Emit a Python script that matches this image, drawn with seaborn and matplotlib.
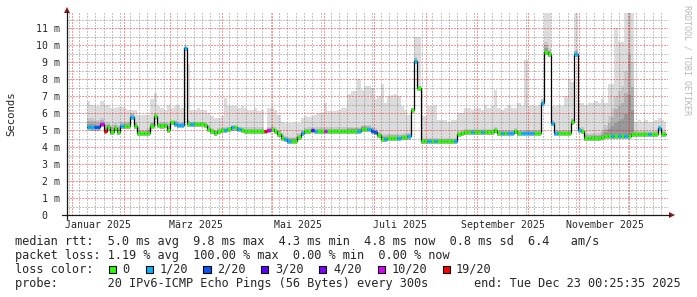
import numpy as np
import pandas as pd
import matplotlib
matplotlib.use("Agg")
import matplotlib.pyplot as plt
import matplotlib.dates as mdates
from matplotlib.ticker import MultipleLocator
from matplotlib.patches import Polygon, Rectangle
from matplotlib.lines import Line2D
import seaborn as sns

# ---------------- data ----------------
sample_start = "2025-01-10"          # first sample, one sample every 2 days
sample_step = "2D"
data_end = "2025-12-23 00:25:35"
view_start = "2024-12-29 00:00"
view_end = "2025-12-24 05:00"

# median rtt per 2-day sample (ms)
median_ms = [
    5.20, 5.15, 5.15, 5.15, 5.35, 4.95, 5.15, 4.88, 5.12, 4.88,
    5.22, 5.25, 5.22, 5.75, 5.25, 4.85, 4.82, 4.82, 4.85, 5.25,
    5.80, 5.28, 5.25, 5.30, 5.00, 5.45, 5.35, 5.32, 5.32, 9.80,
    5.35, 5.35, 5.35, 5.35, 5.35, 5.32, 5.05, 4.92, 4.82, 4.92,
    5.00, 5.00, 5.05, 5.15, 5.15, 5.05, 4.98, 4.96, 4.96, 4.96,
    4.96, 4.96, 4.96, 4.97, 5.00, 5.05, 4.95, 4.75, 4.55, 4.45,
    4.38, 4.37, 4.38, 4.60, 4.82, 4.92, 4.96, 5.00, 4.96, 4.96,
    4.96, 4.96, 4.96, 4.96, 4.96, 4.96, 4.96, 4.96, 4.96, 4.96,
    4.96, 4.96, 5.08, 5.08, 5.05, 4.96, 4.88, 4.70, 4.50, 4.50,
    4.55, 4.55, 4.55, 4.55, 4.57, 4.60, 4.62, 6.20, 9.05, 7.50,
    4.37, 4.35, 4.37, 4.37, 4.37, 4.37, 4.37, 4.37, 4.37, 4.37,
    4.37, 4.75, 4.85, 4.88, 4.88, 4.88, 4.88, 4.88, 4.88, 4.88,
    4.88, 4.88, 5.00, 4.82, 4.82, 4.82, 4.85, 4.85, 4.95, 4.82,
    4.82, 4.82, 4.82, 4.82, 4.82, 4.82, 6.60, 9.60, 9.50, 5.40,
    4.82, 4.82, 4.82, 4.85, 4.85, 5.50, 9.47, 5.00, 4.96, 4.55,
    4.55, 4.55, 4.55, 4.55, 4.60, 4.67, 4.67, 4.67, 4.67, 4.67,
    4.67, 4.67, 4.67, 4.75, 4.75, 4.75, 4.75, 4.75, 4.75, 4.75,
    4.75, 5.10, 4.75, 4.75,
]

# highest ping of the sample (top of the light smoke, ms)
smoke_max_ms = [
    6.7, 6.5, 6.4, 6.4, 6.7, 6.5, 6.5, 6.3, 6.3, 6.35,
    6.35, 6.3, 6.2, 6.2, 6.2, 5.9, 5.9, 5.9, 5.9, 6.8,
    7.2, 6.4, 6.3, 6.2, 6.5, 6.3, 6.4, 6.5, 6.3, 10.0,
    8.9, 6.2, 6.2, 6.3, 6.2, 6.2, 6.0, 5.8, 5.7, 5.7,
    5.8, 6.9, 6.4, 6.4, 6.4, 6.3, 6.4, 6.3, 6.2, 6.2,
    6.3, 6.1, 6.2, 5.0, 6.3, 6.3, 6.2, 5.9, 5.5, 5.4,
    5.4, 5.4, 5.5, 5.4, 5.7, 5.8, 5.75, 5.8, 5.9, 6.0,
    6.0, 6.6, 6.1, 6.1, 6.1, 6.2, 6.3, 6.3, 7.1, 7.3,
    7.3, 8.0, 7.35, 7.6, 7.6, 7.5, 6.8, 7.0, 7.7, 6.6,
    7.0, 7.05, 7.1, 7.0, 6.4, 6.2, 5.9, 6.3, 10.5, 10.5,
    5.8, 5.8, 6.4, 6.4, 6.5, 5.6, 5.6, 5.6, 5.5, 5.6,
    5.6, 6.0, 6.0, 6.3, 6.3, 6.2, 6.3, 6.3, 6.2, 6.5,
    6.3, 6.4, 7.35, 6.3, 6.2, 6.3, 6.5, 6.3, 6.3, 6.6,
    6.4, 9.1, 6.4, 6.5, 6.4, 6.5, 6.8, 11.9, 11.9, 6.4,
    6.4, 6.5, 6.4, 7.0, 8.0, 7.8, 11.9, 6.6, 6.6, 6.5,
    6.6, 6.6, 6.7, 6.6, 6.8, 6.6, 7.7, 7.7, 11.0, 10.2,
    10.2, 11.9, 11.9, 11.9, 5.5, 5.6, 5.5, 5.6, 5.5, 5.5,
    5.6, 5.7, 5.6, 5.5,
]

# top of the dense (dark) part of the smoke (ms)
smoke_dense_ms = [
    5.7, 5.7, 5.6, 5.6, 5.7, 5.5, 5.5, 5.3, 5.4, 5.3,
    5.5, 5.5, 5.5, 6.0, 5.5, 5.1, 5.0, 5.0, 5.1, 5.5,
    6.0, 5.5, 5.5, 5.5, 5.4, 5.6, 5.6, 5.5, 5.5, 9.9,
    5.6, 5.5, 5.5, 5.5, 5.5, 5.5, 5.3, 5.1, 5.0, 5.1,
    5.2, 5.2, 5.2, 5.3, 5.3, 5.2, 5.15, 5.15, 5.15, 5.15,
    5.15, 5.15, 5.15, 5.0, 5.2, 5.25, 5.15, 5.0, 4.8, 4.65,
    4.6, 4.6, 4.6, 4.8, 5.0, 5.1, 5.15, 5.2, 5.15, 5.15,
    5.15, 5.15, 5.15, 5.15, 5.15, 5.15, 5.15, 5.15, 5.2, 5.2,
    5.2, 5.2, 5.3, 5.3, 5.3, 5.2, 5.1, 4.9, 4.75, 4.75,
    4.75, 4.75, 4.75, 4.75, 4.75, 4.8, 4.8, 6.3, 9.3, 7.6,
    4.55, 4.55, 4.55, 4.55, 4.55, 4.55, 4.55, 4.55, 4.55, 4.55,
    4.55, 4.95, 5.0, 5.05, 5.05, 5.05, 5.05, 5.05, 5.05, 5.05,
    5.05, 5.05, 5.15, 5.0, 5.0, 5.0, 5.0, 5.0, 5.1, 5.0,
    5.0, 5.0, 5.0, 5.0, 5.0, 5.0, 6.8, 10.2, 9.8, 5.6,
    5.0, 5.0, 5.0, 5.0, 5.0, 5.7, 9.7, 5.2, 5.15, 4.75,
    4.75, 4.8, 4.8, 4.8, 5.0, 5.3, 5.8, 6.3, 7.0, 7.3,
    7.6, 8.5, 11.9, 9.0, 4.95, 4.95, 4.95, 4.95, 4.95, 4.95,
    4.95, 5.3, 4.95, 4.95,
]

# loss class of each sample: 0=0, c=1/20, b=2/20, v=3/20, p=4/20, m=10/20, r=19/20
loss_code = (
    "ccbbmr0000" "c00c000000" "000000cccc" "0c00000000" "0c0c0c0000"
    "000rm0000c" "c000c00vc0" "0m00000000" "0c00cbb00c" "000c00c0c0"
    "00c0c00000" "c0000c00c0" "0000c0cc00" "cccc00c00c" "c00000cc00"
    "0000000c0c" "0c000000c0" "0c00"
)
loss_keys = "0cbvpmr"
loss_labels = ["0", "1/20", "2/20", "3/20", "4/20", "10/20", "19/20"]
loss_colors = ["#26ff00", "#00b8ff", "#0059ff", "#5e00ff", "#7e00ff", "#dd00ff", "#ff0000"]

month_label_starts = ["2025-01-01", "2025-03-01", "2025-05-01",
                      "2025-07-01", "2025-09-01", "2025-11-01"]
month_labels = ["Januar 2025", "März 2025", "Mai 2025",
                "Juli 2025", "September 2025", "November 2025"]
y_ticks = list(range(12))
y_ticklabels = [" 0"] + [f"{v:2d} m" for v in range(1, 12)]

legend_rtt = "median rtt:  5.0 ms avg  9.8 ms max  4.3 ms min  4.8 ms now  0.8 ms sd  6.4   am/s"
legend_loss = "packet loss: 1.19 % avg  100.00 % max  0.00 % min  0.00 % now"
legend_color = "loss color:"
legend_probe = "probe:       20 IPv6-ICMP Echo Pings (56 Bytes) every 300s"
legend_end = "end: Tue Dec 23 00:25:35 2025"
watermark = "RRDTOOL / TOBI OETIKER"

# ---------------- figure ----------------
sns.set_style("white")
MONO = "DejaVu Sans Mono"
plt.rcParams["font.family"] = [MONO, "DejaVu Sans"]

W, H = 697, 297
fig = plt.figure(figsize=(W / 100, H / 100), dpi=100)
fig.patch.set_facecolor("white")


def fx(px):
    return px / W


def fy(py):
    return 1 - py / H


PL, PR, PT, PB = 67, 668, 13, 215
ax = fig.add_axes([fx(PL), fy(PB), (PR - PL) / W, (PB - PT) / H])
ax.set_facecolor("white")
for s in ax.spines.values():
    s.set_visible(False)

starts = pd.date_range(sample_start, periods=len(median_ms), freq=sample_step)
edges = starts.append(pd.DatetimeIndex([pd.Timestamp(data_end)]))
xe = mdates.date2num(edges.to_numpy())

med = np.array(median_ms)
hi = np.array(smoke_max_ms)
dense = np.array(smoke_dense_ms)
ext = lambda a: np.append(a, a[-1])
med_e, hi_e, dense_e = ext(med), ext(hi), ext(dense)

under = 0.18  # visual thickness of the smoke below the median
ax.fill_between(xe, med_e - under, hi_e, step="post", color="#dcdcdc", lw=0, zorder=1)
ax.fill_between(xe, med_e - under, med_e, step="post", color="#b2b2b2", lw=0, zorder=1.1)
for frac, col in [(1.0, "#c9c9c9"), (0.66, "#b1b1b1"), (0.33, "#989898")]:
    ax.fill_between(xe, med_e, med_e + (dense_e - med_e) * frac, step="post",
                    color=col, lw=0, zorder=1.2)

# median: black step line + loss coloured segments
sns.lineplot(x=xe, y=med_e, drawstyle="steps-post", color="black", lw=0.9,
             estimator=None, sort=False, ax=ax, zorder=3)
cmap = dict(zip(loss_keys, loss_colors))
ax.hlines(med, xe[:-1], xe[1:], colors=[cmap[c] for c in loss_code], lw=2.3, zorder=4)

ax.set_xlim(mdates.date2num(pd.Timestamp(view_start)), mdates.date2num(pd.Timestamp(view_end)))
ax.set_ylim(0, (PB - PT) / 17.0)

# grid
ax.xaxis.set_major_locator(mdates.MonthLocator())
ax.xaxis.set_minor_locator(mdates.DayLocator(bymonthday=[5, 10, 15, 20, 25, 30]))
ax.yaxis.set_major_locator(MultipleLocator(1))
ax.yaxis.set_minor_locator(MultipleLocator(0.5))
ax.set_axisbelow(False)
ax.grid(which="minor", color=(0.45, 0.45, 0.45, 0.2), lw=0.6, ls=(0, (1.2, 2.4)))
ax.grid(which="major", color=(1.0, 0.0, 0.0, 0.2), lw=0.6, ls=(0, (1.2, 2.4)))
ax.tick_params(which="both", length=0)
ax.tick_params(axis="x", labelbottom=False)
ax.set_yticks(y_ticks)
ax.set_yticklabels(y_ticklabels)
ax.tick_params(axis="y", pad=(PL - 36) * 0.72, labelsize=7.1)
for lab in ax.get_yticklabels():
    lab.set_horizontalalignment("left")
    lab.set_family(MONO)

# month labels centred in their month
for st, lab in zip(month_label_starts, month_labels):
    pos = mdates.date2num(pd.Timestamp(st) + pd.Timedelta(days=15.5))
    ax.text(pos, -(228 - PB) / (PB - PT), lab, transform=ax.get_xaxis_transform(),
            ha="center", va="baseline", fontsize=7.1, family=MONO, clip_on=False)

# axis lines and arrows
axis_col = "#1a1a1a"
fig.add_artist(Line2D([fx(62), fx(670)], [fy(PB), fy(PB)], color=axis_col, lw=0.9))
fig.add_artist(Line2D([fx(PL), fx(PL)], [fy(219), fy(11)], color=axis_col, lw=0.9))
arrow_col = "#8b1a1a"
fig.add_artist(Polygon([[fx(PL), fy(7)], [fx(PL - 3), fy(13)], [fx(PL + 3), fy(13)]],
                       closed=True, color=arrow_col, lw=0))
fig.add_artist(Polygon([[fx(675), fy(PB)], [fx(669), fy(PB - 3)], [fx(669), fy(PB + 3)]],
                       closed=True, color=arrow_col, lw=0))

# titles / side texts
fig.text(fx(11), fy(114), "Seconds", rotation=90, ha="center", va="center",
         fontsize=7.7, family=MONO)
fig.text(fx(687), fy(60), watermark, rotation=270, ha="center", va="center",
         fontsize=6.0, family=MONO, color="#b8b8b8")

# legend
LF = 8.55
X0 = 14.6
fig.text(fx(X0), fy(245), legend_rtt, ha="left", va="baseline", fontsize=LF, family=MONO)
fig.text(fx(X0), fy(259), legend_loss, ha="left", va="baseline", fontsize=LF, family=MONO)
fig.text(fx(X0), fy(273), legend_color, ha="left", va="baseline", fontsize=LF, family=MONO)
box_x = [108.7, 145.7, 203.3, 261.0, 319.0, 377.7, 442.7]
lab_x = [122.3, 160.0, 217.3, 275.0, 333.2, 391.7, 456.0]
for bx, lx, col, lab in zip(box_x, lab_x, loss_colors, loss_labels):
    fig.add_artist(Rectangle((fx(bx), fy(273)), 7.3 / W, 7.3 / H, facecolor=col,
                             edgecolor="black", lw=0.8))
    fig.text(fx(lx), fy(273), lab, ha="left", va="baseline", fontsize=LF, family=MONO)
fig.text(fx(X0), fy(287), legend_probe, ha="left", va="baseline", fontsize=LF, family=MONO)
fig.text(fx(681), fy(287), legend_end, ha="right", va="baseline", fontsize=LF, family=MONO)

fig.savefig("out.png", dpi=100, facecolor="white")
